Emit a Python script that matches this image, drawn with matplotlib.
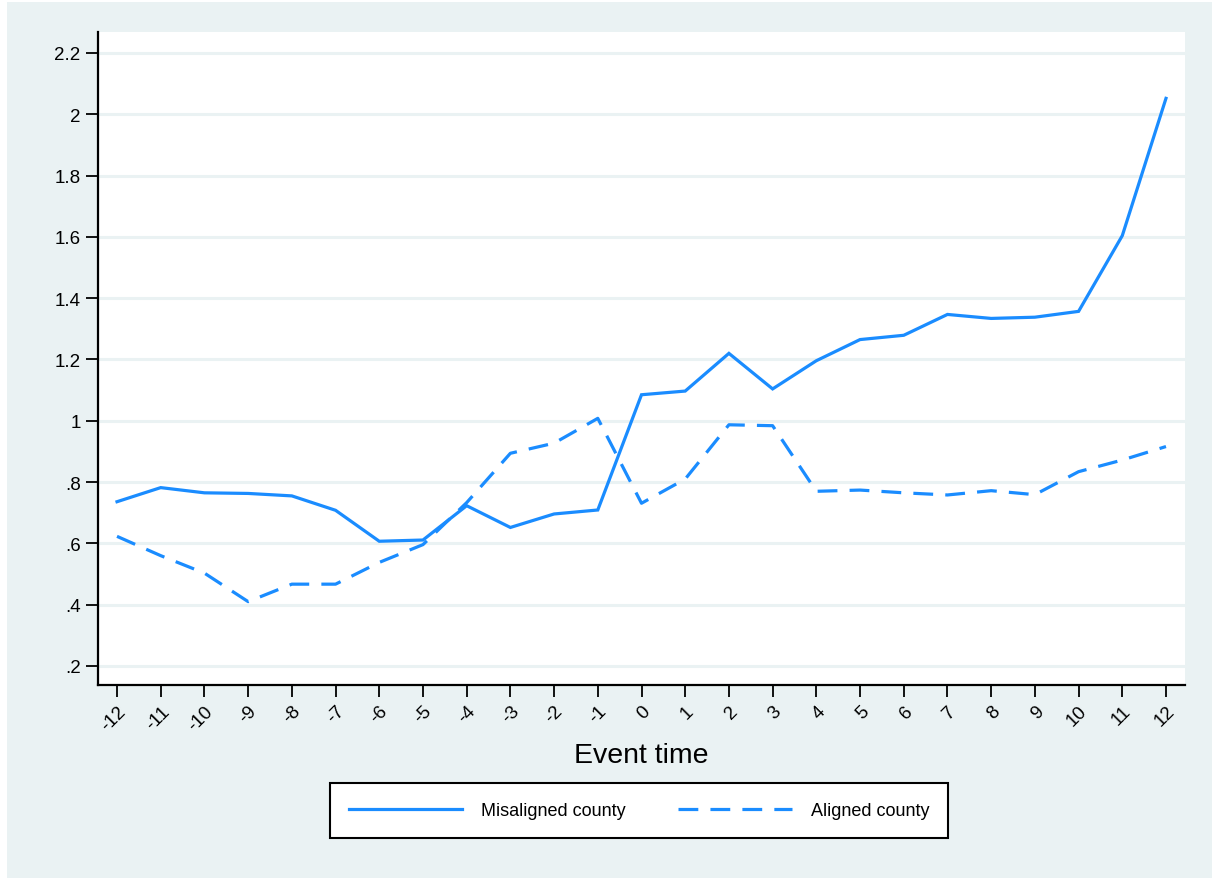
"""Event-study style line chart: misaligned vs aligned counties over event time."""

import matplotlib
matplotlib.use("Agg")
import matplotlib.pyplot as plt
from matplotlib.patches import Rectangle

plt.rcParams["font.family"] = ["Liberation Sans", "DejaVu Sans"]

# Data
EVENT_TIME = list(range(-12, 13))
MISALIGNED = [0.736, 0.782, 0.765, 0.763, 0.755, 0.708, 0.607, 0.611, 0.723,
              0.652, 0.696, 0.709, 1.085, 1.097, 1.220, 1.104, 1.196, 1.265,
              1.279, 1.347, 1.334, 1.338, 1.357, 1.604, 2.052]
ALIGNED = [0.623, 0.560, 0.503, 0.410, 0.467, 0.467, 0.538, 0.596, 0.733,
           0.894, 0.927, 1.008, 0.731, 0.810, 0.987, 0.984, 0.770, 0.774,
           0.765, 0.758, 0.772, 0.759, 0.834, 0.872, 0.916]
Y_TICKS = [0.2, 0.4, 0.6, 0.8, 1.0, 1.2, 1.4, 1.6, 1.8, 2.0, 2.2]
Y_TICKLABELS = [".2", ".4", ".6", ".8", "1", "1.2", "1.4", "1.6", "1.8", "2", "2.2"]

BG = "#eaf2f3"
LINE = "#1a8cff"
W, H = 1214, 879

fig = plt.figure(figsize=(W / 100, H / 100), dpi=100)
fig.patch.set_facecolor("white")
# Stata-like graph region, with a thin white margin at top/left
fig.patches.append(Rectangle((7 / W, 0), (1212 - 7) / W, 1 - 3 / H,
                             transform=fig.transFigure, facecolor=BG,
                             edgecolor="none", zorder=-10))

ax = fig.add_axes([98 / W, 1 - 686 / H, (1185 - 98) / W, (686 - 33) / H])
ax.set_facecolor("white")

ax.plot(EVENT_TIME, MISALIGNED, color=LINE, lw=2.3, label="Misaligned county",
        solid_joinstyle="miter")
ax.plot(EVENT_TIME, ALIGNED, color=LINE, lw=2.3, label="Aligned county",
        dashes=(6.2, 3.8))

ax.set_xlim(-12.435, 12.435)
ax.set_ylim(0.138, 2.2685)

ax.set_yticks(Y_TICKS)
ax.set_yticklabels(Y_TICKLABELS)
ax.set_xticks(EVENT_TIME)
ax.set_xticklabels([str(t) for t in EVENT_TIME], rotation=45, ha="right",
                   va="top", rotation_mode="anchor")

ax.grid(axis="y", color=BG, lw=2.2)
ax.set_axisbelow(True)
for side in ("top", "right"):
    ax.spines[side].set_visible(False)
for side in ("left", "bottom"):
    ax.spines[side].set_linewidth(1.6)
    ax.spines[side].set_color("black")
ax.tick_params(axis="both", direction="out", length=8.5, width=1.3,
               labelsize=13.5, colors="black", pad=4)

ax.set_xlabel("Event time", fontsize=20.5, labelpad=6)

leg = fig.legend(loc="center", bbox_to_anchor=(639 / W, 1 - 811.5 / H),
                 ncol=2, fontsize=13, frameon=True, fancybox=False,
                 framealpha=1, facecolor="white",
                 handlelength=6.3, handletextpad=1.05, columnspacing=2.9,
                 borderpad=1.05)
leg.get_frame().set_edgecolor("black")
leg.get_frame().set_linewidth(1.5)

fig.savefig("out.png", dpi=100)
